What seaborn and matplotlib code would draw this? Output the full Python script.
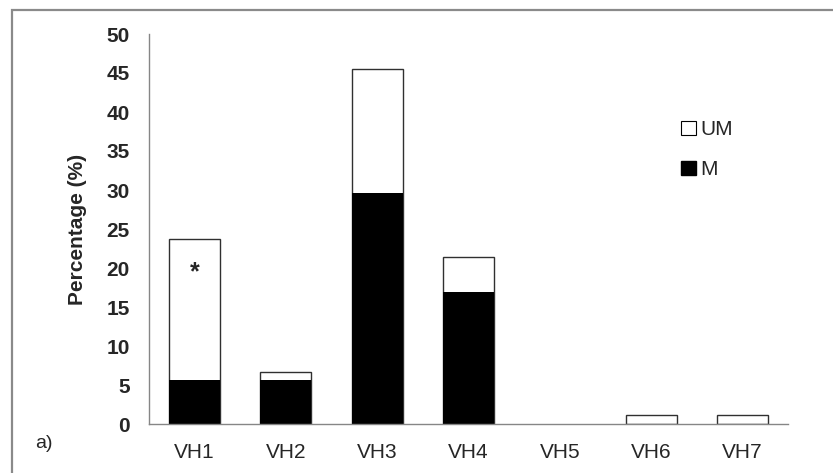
import numpy as np
import pandas as pd
import matplotlib
matplotlib.use("Agg")
import matplotlib.pyplot as plt
import seaborn as sns
from matplotlib.patches import Patch, Rectangle

# -------------------------------
# Data
# -------------------------------

categories = ["VH1", "VH2", "VH3", "VH4", "VH5", "VH6", "VH7"]
m_values = [5.7, 5.7, 29.6, 16.9, 0.0, 0.0, 0.0]
um_values = [18.0, 1.0, 15.9, 4.5, 0.0, 1.1, 1.1]
y_ticks = [0, 5, 10, 15, 20, 25, 30, 35, 40, 45, 50]

df = pd.DataFrame({
    "group": categories,
    "M": m_values,
    "UM": um_values,
})
df["total"] = df["M"] + df["UM"]

sns.set_style("white")
plt.rcParams["font.family"] = ["Liberation Sans", "DejaVu Sans"]

axis_grey = "#868686"

fig = plt.figure(figsize=(8.33, 4.73), dpi=100)
ax = fig.add_axes([149 / 833, 1 - 424 / 473, (788 - 149) / 833, (424 - 34) / 473])

# -----------------------------------
# Stacked bars: total (white) then M (black) on top
# -----------------------------------

sns.barplot(
    data=df, x="group", y="total", ax=ax,
    color="white", edgecolor="#303030", linewidth=1.0,
    width=0.56, saturation=1,
)
sns.barplot(
    data=df, x="group", y="M", ax=ax,
    color="black", edgecolor="black", linewidth=0,
    width=0.56, saturation=1,
)

# empty bars should leave no outline on the axis
for bar in ax.patches:
    if bar.get_height() == 0:
        bar.set_linewidth(0)

ax.set_ylim(0, 50)
ax.set_xlim(-0.5, len(categories) - 0.5)
ax.set_yticks(y_ticks)
ax.set_yticklabels([str(v) for v in y_ticks], fontsize=15, fontweight="bold")
ax.set_xticks(range(len(categories)))
ax.set_xticklabels(categories, fontsize=15)
ax.set_xticks(np.arange(-0.5, len(categories), 1.0), minor=True)
ax.tick_params(axis="x", which="major", length=0, pad=14)
ax.tick_params(axis="x", which="minor", length=5, width=1, color=axis_grey, direction="out")
ax.tick_params(axis="y", length=5, width=1, color=axis_grey, direction="out", pad=9)

ax.set_xlabel("")
ax.set_ylabel("Percentage (%)", fontsize=15, fontweight="bold", labelpad=14)

for side in ["top", "right"]:
    ax.spines[side].set_visible(False)
for side in ["left", "bottom"]:
    ax.spines[side].set_color(axis_grey)
    ax.spines[side].set_linewidth(1.0)

# asterisk on VH1
ax.text(0, 19.4, "*", ha="center", va="center", fontsize=18, fontweight="bold")

# legend
handles = [
    Patch(facecolor="white", edgecolor="black", linewidth=0.8, label="UM"),
    Patch(facecolor="black", edgecolor="black", label="M"),
]
fig.legend(
    handles=handles, loc="upper left",
    bbox_to_anchor=(673 / 833, 1 - 112 / 473),
    frameon=False, fontsize=15,
    handlelength=0.7, handleheight=0.7, handletextpad=0.2,
    labelspacing=1.0, borderaxespad=0,
)

fig.text(35 / 833, 1 - 443 / 473, "a)", fontsize=14, ha="left", va="center")

# outer frame (only top and left visible, as in the cropped original)
fig.patches.append(Rectangle(
    (12 / 833, -0.1), 1.2, 1 - 10 / 473 + 0.1,
    transform=fig.transFigure, fill=False,
    edgecolor="#8a8a8a", linewidth=1.6,
))

fig.savefig("out.png", dpi=100)
